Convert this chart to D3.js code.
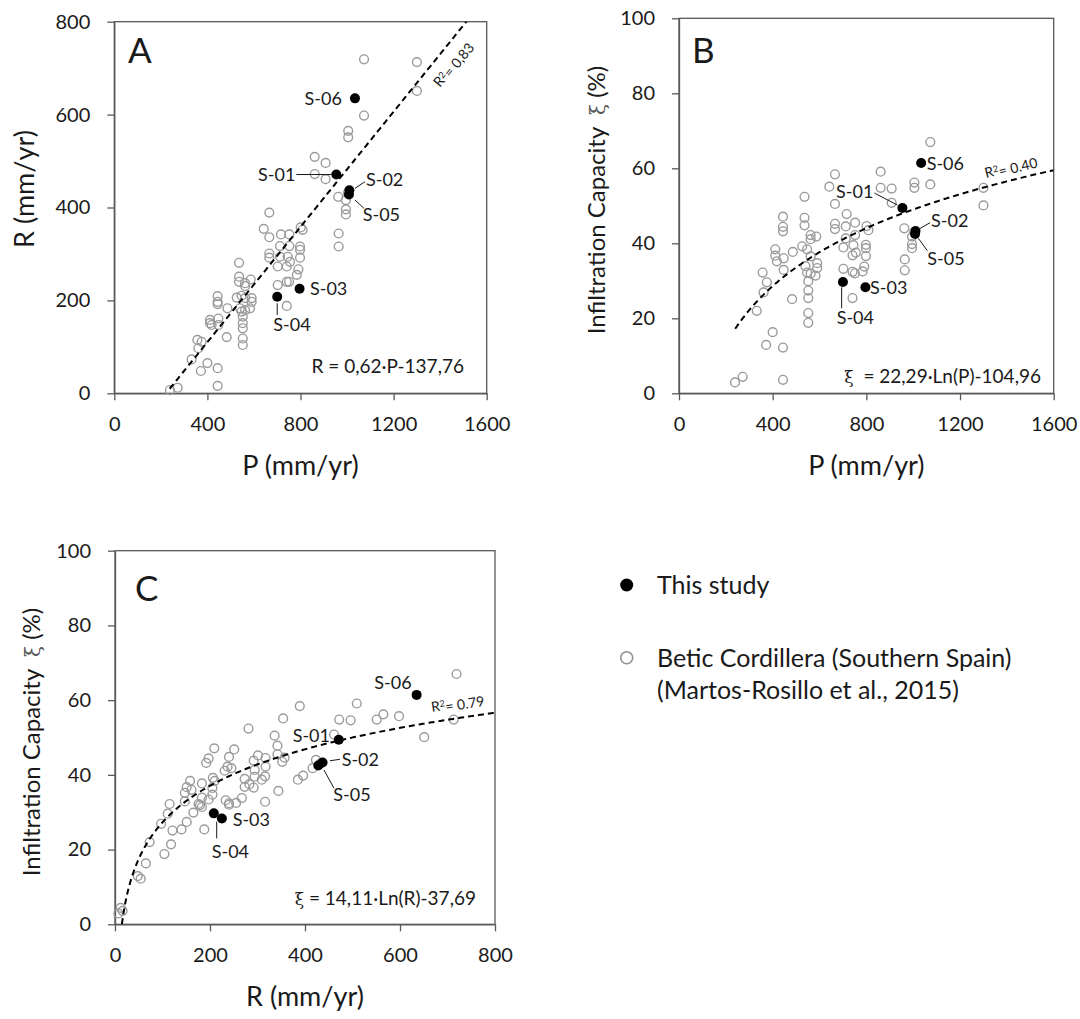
<!DOCTYPE html>
<html>
<head>
<meta charset="utf-8">
<script src="https://cdn.jsdelivr.net/npm/d3@7"></script>
<style>
  html, body { margin: 0; padding: 0; background: #fff; }
  svg { display: block; }
  text { font-family: Lato, "Open Sans", sans-serif; fill: #1a1a1a; }
</style>
</head>
<body>
<svg id="chart" width="1080" height="1019"></svg>
<script>
// ---------- DATA ----------
// Betic Cordillera (Martos-Rosillo et al., 2015): precipitation P, recharge R (mm/yr), infiltration capacity xi (%)
const betP = [1073,1300,1300,1073,1005,1005,861,908,861,908,962,1004,995,995,995,964,964,
  666,642,666,716,752,801,809,712,752,798,798,666,666,712,745,798,702,741,755,791,784,741,751,702,741,
  536,536,536,562,562,586,444,444,444,486,526,547,562,590,590,540,547,562,583,552,552,552,552,552,
  411,411,418,447,447,483,357,375,361,332,400,372,444,444,239,272];
const betR = [719,713,651,598,565,551,509,496,472,461,423,432,416,396,385,344,316,
  389,354,336,342,342,357,352,317,317,316,309,301,292,294,294,292,273,273,283,267,255,240,240,233,188,
  281,251,240,237,231,245,209,197,192,183,206,210,205,205,197,183,176,179,183,165,151,140,118,104,
  158,151,147,161,147,121,115,111,97,73,65,48,54,16,7,12];
const betXi = [67.0,54.8,50.1,55.7,56.2,54.8,59.1,54.6,54.8,50.8,44.0,43.0,41.8,39.8,38.7,35.7,32.8,
  58.4,55.1,50.5,47.8,45.5,44.6,43.5,44.5,42.2,39.6,38.7,45.2,43.8,41.3,39.5,36.6,38.9,36.8,37.5,33.8,32.5,32.4,32.0,33.2,25.4,
  52.4,46.8,44.8,42.2,41.1,41.8,47.1,44.4,43.2,37.7,39.2,38.4,36.5,34.7,33.4,33.9,32.2,31.9,31.4,29.9,27.4,25.4,21.4,18.8,
  38.4,36.7,35.2,36.0,32.9,25.1,32.2,29.6,26.9,22.0,16.3,12.9,12.2,3.6,2.9,4.4];

// This study
const studyNames = ["S-01","S-02","S-03","S-04","S-05","S-06"];
const studyP  = [954, 1010, 796, 700, 1008, 1034];
const studyR  = [471, 437, 225, 208, 428, 635];
const studyXi = [49.4, 43.3, 28.3, 29.7, 42.5, 61.4];

// Tick labels
const ticksP  = [0, 400, 800, 1200, 1600];
const ticksRy = [0, 200, 400, 600, 800];
const ticksXi = [0, 20, 40, 60, 80, 100];
const ticksRx = [0, 200, 400, 600, 800];

// Fit equations / texts
const eqTexts = ["R = 0,62·P-137,76", "= 22,29·Ln(P)-104,96", "= 14,11·Ln(R)-37,69"];
const r2Texts = ["0,83", "0.40", "0.79"];
const legendTexts = ["This study", "Betic Cordillera (Southern Spain)", "(Martos-Rosillo et al., 2015)"];

// ---------- DRAWING ----------
const svg = d3.select("#chart");
const AXIS = "#595959";
const GRAY = "#9b9b9b";

function zip(a, b) { return a.map((v, i) => ({x: v, y: b[i]})); }

const panels = [
  {
    letter: "A", xr: [114.3, 486.7], yr: [393.3, 21.7], xd: [0,1600], yd: [0,800],
    xt: ticksP, yt: ticksRy, xTitle: "P (mm/yr)", yTitle: "R (mm/yr)",
    yTitlePos: [34, 189], letterPos: [128, 63],
    gray: zip(betP, betR), black: zip(studyP, studyR),
    fit: p => 0.62 * p - 137.76, fitDom: [238, 1600],
    eq: {x: 464, y: 366, xi: false, text: eqTexts[0]},
    r2: {x: 440, y: 88, rot: -51, text: r2Texts[0]},
    labels: {
      "S-06": {a: "end", dx: -13, dy: 0},
      "S-01": {a: "end", dx: -41, dy: 0, line: [-40, 0, -4, 0]},
      "S-02": {a: "start", dx: 16.6, dy: -10.3, line: [5.6, -2, 15.6, -8.6]},
      "S-05": {a: "start", dx: 13.8, dy: 20.5, line: [6, 5.5, 15, 13.8]},
      "S-03": {a: "start", dx: 10.4, dy: 0},
      "S-04": {a: "start", dx: -3.9, dy: 28.3, line: [0, 6.6, 0, 18.3]}
    }
  },
  {
    letter: "B", xr: [679, 1053.7], yr: [393.3, 18.3], xd: [0,1600], yd: [0,100],
    xt: ticksP, yt: ticksXi, xTitle: "P (mm/yr)", yTitle: "Infiltration Capacity",
    yTitlePos: [605, 200], letterPos: [692, 63],
    gray: zip(betP, betXi), black: zip(studyP, studyXi),
    fit: p => 22.29 * Math.log(p) - 104.96, fitDom: [240, 1600],
    eq: {x: 1041, y: 376, xi: true, text: eqTexts[1], gap: "  "},
    r2: {x: 986, y: 178, rot: -14, text: r2Texts[1]},
    labels: {
      "S-06": {a: "start", dx: 5.5, dy: 0},
      "S-01": {a: "end", dx: -29, dy: -16.3, line: [-28, -15, -5, -3]},
      "S-02": {a: "start", dx: 15.5, dy: -10.2, line: [3, -1.6, 14.5, -8.2]},
      "S-05": {a: "start", dx: 12.3, dy: 24.4, line: [3.3, 4.4, 12.3, 16.8]},
      "S-03": {a: "start", dx: 4.6, dy: 0},
      "S-04": {a: "start", dx: -6.3, dy: 35.8, line: [-1.3, 5.4, -1.3, 26.4]}
    }
  },
  {
    letter: "C", xr: [115, 495], yr: [924.3, 550.7], xd: [0,800], yd: [0,100],
    xt: ticksRx, yt: ticksXi, xTitle: "R (mm/yr)", yTitle: "Infiltration Capacity",
    yTitlePos: [40, 742], letterPos: [135, 601],
    gray: zip(betR, betXi), black: zip(studyR, studyXi),
    fit: r => 14.11 * Math.log(r) - 37.69, fitDom: [14.5, 800],
    eq: {x: 476, y: 898, xi: true, text: eqTexts[2], gap: " "},
    r2: {x: 432, y: 712, rot: -9, text: r2Texts[2]},
    labels: {
      "S-06": {a: "end", dx: -5, dy: -12.7},
      "S-01": {a: "end", dx: -8.7, dy: -4.7},
      "S-02": {a: "start", dx: 19.1, dy: -3.5, line: [7.4, -1.8, 17.4, -3.2]},
      "S-05": {a: "start", dx: 15, dy: 28.5, line: [5.7, 4.5, 15.7, 22.8]},
      "S-03": {a: "start", dx: 10.8, dy: 1.4},
      "S-04": {a: "start", dx: -2.1, dy: 38.4, line: [2.9, 8.4, 2.9, 25]}
    }
  }
];

panels.forEach((cfg, pi) => {
  const x = d3.scaleLinear().domain(cfg.xd).range(cfg.xr);
  const y = d3.scaleLinear().domain(cfg.yd).range(cfg.yr);
  const g = svg.append("g");

  // frame
  g.append("rect")
    .attr("x", cfg.xr[0]).attr("y", cfg.yr[1])
    .attr("width", cfg.xr[1] - cfg.xr[0]).attr("height", cfg.yr[0] - cfg.yr[1])
    .attr("fill", "none").attr("stroke", AXIS).attr("stroke-width", 1.3);

  // axes
  const ax = g.append("g").attr("transform", `translate(0,${cfg.yr[0]})`)
    .call(d3.axisBottom(x).tickValues(cfg.xt).tickFormat(d3.format("d")).tickSize(7).tickSizeOuter(0).tickPadding(17));
  const ay = g.append("g").attr("transform", `translate(${cfg.xr[0]},0)`)
    .call(d3.axisLeft(y).tickValues(cfg.yt).tickFormat(d3.format("d")).tickSize(7).tickSizeOuter(0).tickPadding(17));
  [ax, ay].forEach(a => {
    a.select(".domain").attr("stroke", AXIS).attr("stroke-width", 1.3);
    a.selectAll(".tick line").attr("stroke", AXIS).attr("stroke-width", 1.3);
    a.selectAll(".tick text").style("font-size", "20px").attr("fill", "#1a1a1a")
      .style("font-family", 'Lato, "Open Sans", sans-serif');
  });

  // axis titles
  g.append("text").attr("x", (cfg.xr[0] + cfg.xr[1]) / 2).attr("y", cfg.yr[0] + 82)
    .attr("text-anchor", "middle").style("font-size", "27px").text(cfg.xTitle);
  const yt = g.append("text")
    .attr("transform", `translate(${cfg.yTitlePos[0]},${cfg.yTitlePos[1]}) rotate(-90)`)
    .attr("text-anchor", "middle");
  if (cfg.yTitle === "R (mm/yr)") {
    yt.style("font-size", "27px").text(cfg.yTitle);
  } else {
    yt.style("font-size", "24px");
    yt.append("tspan").text(cfg.yTitle + "\u00a0 ");
    yt.append("tspan").style("font-family", '"DejaVu Serif", serif').style("font-size", "20px")
      .attr("fill", "#555").text("ξ");
    yt.append("tspan").text(" (%)");
  }

  // panel letter
  g.append("text").attr("x", cfg.letterPos[0]).attr("y", cfg.letterPos[1])
    .style("font-size", "35px").text(cfg.letter);

  // clip for fit line
  const clipId = "clip" + pi;
  svg.append("clipPath").attr("id", clipId).append("rect")
    .attr("x", cfg.xr[0]).attr("y", cfg.yr[1])
    .attr("width", cfg.xr[1] - cfg.xr[0]).attr("height", cfg.yr[0] - cfg.yr[1]);

  // gray (Betic) points
  g.append("g").selectAll("circle").data(cfg.gray).join("circle")
    .attr("cx", d => x(d.x)).attr("cy", d => y(d.y)).attr("r", 4.4)
    .attr("fill", "none").attr("stroke", GRAY).attr("stroke-width", 1.4);

  // fit line
  const fx = d3.range(cfg.fitDom[0], cfg.fitDom[1], (cfg.fitDom[1] - cfg.fitDom[0]) / 300).concat([cfg.fitDom[1]]);
  g.append("path").attr("clip-path", `url(#${clipId})`)
    .attr("d", d3.line().x(d => x(d)).y(d => y(cfg.fit(d)))(fx))
    .attr("fill", "none").attr("stroke", "#000").attr("stroke-width", 2)
    .attr("stroke-dasharray", "6,4");

  // study points
  g.append("g").selectAll("circle").data(cfg.black).join("circle")
    .attr("cx", d => x(d.x)).attr("cy", d => y(d.y)).attr("r", 5)
    .attr("fill", "#000");

  // study labels
  cfg.black.forEach((d, i) => {
    const name = studyNames[i];
    const L = cfg.labels[name];
    const px = x(d.x), py = y(d.y);
    if (L.line) {
      g.append("line")
        .attr("x1", px + L.line[0]).attr("y1", py + L.line[1])
        .attr("x2", px + L.line[2]).attr("y2", py + L.line[3])
        .attr("stroke", "#1a1a1a").attr("stroke-width", 1);
    }
    g.append("text").attr("x", px + L.dx).attr("y", py + L.dy).attr("dy", "0.36em")
      .attr("text-anchor", L.a).style("font-size", "18px").text(name);
  });

  // equation
  const eq = g.append("text").attr("x", cfg.eq.x).attr("y", cfg.eq.y).attr("dy", "0.36em")
    .attr("text-anchor", "end").style("font-size", "19px");
  if (cfg.eq.xi) {
    eq.append("tspan").style("font-family", '"DejaVu Serif", serif').style("font-size", "17px").text("ξ");
    eq.append("tspan").text(cfg.eq.gap.replace(/ /g, "\u00a0") + cfg.eq.text);
  } else {
    eq.text(cfg.eq.text);
  }

  // R² label
  const r2 = g.append("text")
    .attr("transform", `translate(${cfg.r2.x},${cfg.r2.y}) rotate(${cfg.r2.rot})`)
    .style("font-size", "14px");
  r2.append("tspan").text("R");
  r2.append("tspan").attr("dy", "-0.4em").style("font-size", "9px").text("2");
  r2.append("tspan").attr("dy", "0.4em").text("= " + cfg.r2.text);
});

// legend
const lg = svg.append("g");
lg.append("circle").attr("cx", 626.7).attr("cy", 585).attr("r", 6.5).attr("fill", "#000");
lg.append("circle").attr("cx", 626.7).attr("cy", 657.7).attr("r", 6).attr("fill", "none")
  .attr("stroke", "#909090").attr("stroke-width", 1.6);
lg.append("text").attr("x", 657).attr("y", 585).attr("dy", "0.36em").style("font-size", "25px").text(legendTexts[0]);
lg.append("text").attr("x", 657).attr("y", 657.7).attr("dy", "0.36em").style("font-size", "25px").text(legendTexts[1]);
lg.append("text").attr("x", 657).attr("y", 690).attr("dy", "0.36em").style("font-size", "25px").text(legendTexts[2]);
</script>
</body>
</html>
